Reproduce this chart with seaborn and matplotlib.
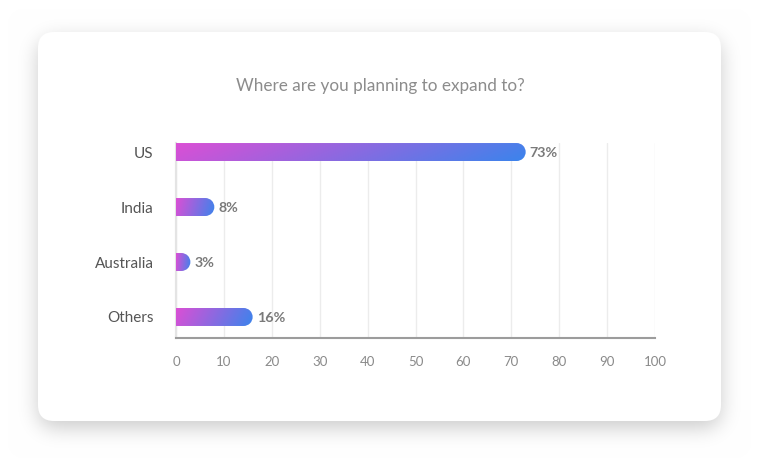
import numpy as np
import pandas as pd
import matplotlib
matplotlib.use("Agg")
import matplotlib.pyplot as plt
import seaborn as sns
from matplotlib.path import Path
from matplotlib.patches import FancyBboxPatch
from matplotlib.transforms import IdentityTransform

# ---- data ----
categories = ["US", "India", "Australia", "Others"]
values = [73, 8, 3, 16]
value_labels = ["73%", "8%", "3%", "16%"]
x_ticks = [0, 10, 20, 30, 40, 50, 60, 70, 80, 90, 100]
title = "Where are you planning to expand to?"

sns.set_theme(style="white")
plt.rcParams["font.family"] = ["Lato", "DejaVu Sans"]

W, H = 760, 466
fig = plt.figure(figsize=(W / 100, H / 100), dpi=100)
fig.patch.set_facecolor("white")

# ---- background with card shadow ----
def rounded_mask(w, h, x0, y0, x1, y1, r):
    yy, xx = np.mgrid[0:h, 0:w] + 0.5
    cx = np.clip(xx, x0 + r, x1 - r)
    cy = np.clip(yy, y0 + r, y1 - r)
    d = np.sqrt((xx - cx) ** 2 + (yy - cy) ** 2)
    return np.clip(r - d + 0.5, 0, 1)

def blur(a, sigma):
    rad = int(3 * sigma)
    k = np.exp(-0.5 * (np.arange(-rad, rad + 1) / sigma) ** 2)
    k /= k.sum()
    a = np.apply_along_axis(lambda m: np.convolve(m, k, mode="same"), 1, a)
    a = np.apply_along_axis(lambda m: np.convolve(m, k, mode="same"), 0, a)
    return a

card = (38, 32, 721, 421)
sh = rounded_mask(W, H, card[0], card[1] + 7, card[2], card[3] + 7, 16)
sh = blur(sh, 10)
bg = 1 - 0.20 * sh
bg_img = np.dstack([bg, bg, bg])
fig.figimage(bg_img, xo=0, yo=0, origin="upper", zorder=0)

card_patch = FancyBboxPatch((card[0], H - card[3]), card[2] - card[0], card[3] - card[1],
                            boxstyle="round,pad=0,rounding_size=16",
                            facecolor="white", edgecolor="none",
                            transform=IdentityTransform(), zorder=1)
fig.add_artist(card_patch)

# ---- axes ----
ax_l, ax_r, ax_t, ax_b = 176, 655, 143, 338
ax = fig.add_axes([ax_l / W, (H - ax_b) / H, (ax_r - ax_l) / W, (ax_b - ax_t) / H])
ax.set_zorder(2)
ax.patch.set_alpha(0)

df = pd.DataFrame({"country": categories, "pct": values})
bar_w = 0.327
sns.barplot(data=df, x="pct", y="country", orient="h", width=bar_w, ax=ax,
            color="#9b6ae0", saturation=1)

ax.set_xlim(0, 100)
ax.set_ylim(3.382, -0.164)
ax.set_xticks(x_ticks)
ax.set_xlabel("")
ax.set_ylabel("")
ax.grid(axis="x", color="#ececec", linewidth=1.0)
ax.grid(axis="y", visible=False)
ax.set_axisbelow(True)
for s in ["top", "right"]:
    ax.spines[s].set_visible(False)
ax.spines["left"].set_color("#e4e4e4")
ax.spines["left"].set_linewidth(1.6)
ax.spines["bottom"].set_color("#9c9c9c")
ax.spines["bottom"].set_linewidth(1.5)
ax.tick_params(axis="x", length=0, pad=13, labelsize=9.5, labelcolor="#8a8a8a")
ax.tick_params(axis="y", length=0, pad=16, labelsize=11, labelcolor="#555555")

fig.text(380 / W, 1 - 86 / H, title, ha="center", va="center",
         fontsize=12.3, color="#8c8c8c")

# ---- gradient rounded bars ----
c0 = np.array([0xdb, 0x4f, 0xd5]) / 255
c1 = np.array([0x3b, 0x84, 0xec]) / 255
nx, ny = 256, 16
gx = np.linspace(0, 1, nx)[None, :]
gy = np.linspace(0, 1, ny)[:, None]
t = np.clip(0.9 * gx + 0.1 * gy, 0, 1)
grad = c0[None, None, :] * (1 - t[..., None]) + c1[None, None, :] * t[..., None]

fig.canvas.draw()
patches = list(ax.patches)
for p, lab in zip(patches, value_labels):
    x0, y0 = p.get_x(), p.get_y()
    w, h = p.get_width(), p.get_height()
    p.set_visible(False)
    im = ax.imshow(grad, extent=(x0, x0 + w, y0 + h, y0), aspect="auto",
                   interpolation="bilinear", zorder=3)
    (dx0, dy_a), (dx1, dy_b) = ax.transData.transform([(x0, y0), (x0 + w, y0 + h)])
    yb, yt = min(dy_a, dy_b), max(dy_a, dy_b)
    r = (yt - yb) / 2
    yc = (yt + yb) / 2
    arc = Path.arc(-90, 90)
    av = arc.vertices * r + np.array([dx1 - r, yc])
    acodes = list(arc.codes)
    acodes[0] = Path.LINETO
    verts = [(dx0, yb)] + list(map(tuple, av)) + [(dx0, yt), (dx0, yb)]
    codes = [Path.MOVETO] + acodes + [Path.LINETO, Path.CLOSEPOLY]
    im.set_clip_path(Path(verts, codes), IdentityTransform())
    ax.annotate(lab, xy=(x0 + w, y0 + h / 2), xytext=(4, -1), textcoords="offset pixels",
                ha="left", va="center", fontsize=10.3, fontweight="bold", color="#7a7a7a",
                zorder=4)

ax.set_xlim(0, 100)
ax.set_ylim(3.382, -0.164)

fig.savefig("out.png", dpi=100, facecolor="white")
